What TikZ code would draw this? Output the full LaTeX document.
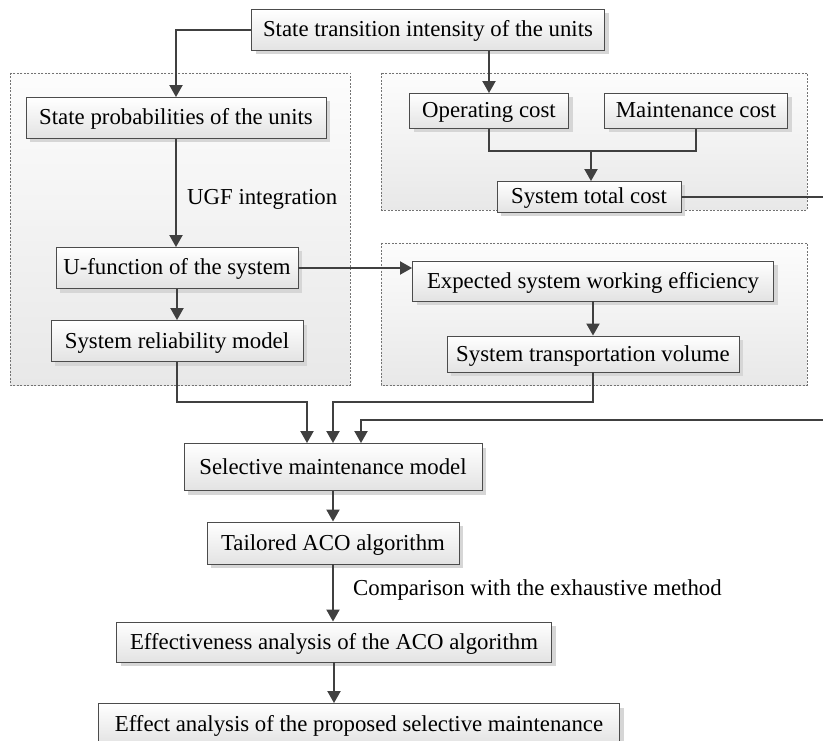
\documentclass[tikz,border=0pt]{standalone}
\usepackage{fontspec}
\setmainfont{Liberation Serif}
\usetikzlibrary{arrows.meta,shadows}
\begin{document}
\begin{tikzpicture}[x=1pt,y=-1pt,
  txt/.style={font=\fontsize{22.8}{26}\selectfont},
  box/.style={txt, draw=black!70, line width=0.9pt, top color=white, bottom color=black!11,
    inner sep=0pt, text height=14pt, text depth=0pt,
    drop shadow={shadow xshift=4pt, shadow yshift=-4pt, fill=black!16, opacity=1}},
  grp/.style={draw=black!55, line width=0.7pt, dash pattern=on 2pt off 1.5pt, top color=black!1, bottom color=black!9},
  conn/.style={draw=black!75, line width=2pt},
  arr/.style={conn, -{Triangle[length=12pt,width=13pt]}},
  lbl/.style={txt, inner sep=0pt, anchor=west}]
\useasboundingbox (0,0) rectangle (823,741);
\clip (0,0) rectangle (823,741);
\fill[white] (0,0) rectangle (823,741);
% groups
\path[grp] (10,73) rectangle (350,385);
\path[grp] (381,73) rectangle (807,210);
\path[grp] (381,243) rectangle (807,385);
% boxes
\node[box, minimum width=353pt, minimum height=41pt] (top) at (428,30) {State transition intensity of the units};
\node[box, minimum width=300pt, minimum height=41pt] (prob) at (176,118) {State probabilities of the units};
\node[box, minimum width=242pt, minimum height=41pt] (ufunc) at (177,268) {U-function of the system};
\node[box, minimum width=252pt, minimum height=41pt] (rel) at (177,341) {System reliability model};
\node[box, minimum width=159pt, minimum height=35pt] (oper) at (489,111) {Operating cost};
\node[box, minimum width=183pt, minimum height=35pt] (maint) at (696,111) {Maintenance cost};
\node[box, minimum width=184pt, minimum height=31pt] (total) at (589,197) {System total cost};
\node[box, minimum width=361pt, minimum height=40pt] (expect) at (593,281) {Expected system working efficiency};
\node[box, minimum width=292pt, minimum height=36pt] (volume) at (593,354) {System transportation volume};
\node[box, minimum width=298pt, minimum height=47pt] (select) at (333,467) {Selective maintenance model};
\node[box, minimum width=252pt, minimum height=42pt] (aco) at (333,543) {Tailored ACO algorithm};
\node[box, minimum width=435pt, minimum height=40pt] (eff) at (334,642) {Effectiveness analysis of the ACO algorithm};
\node[box, minimum width=521pt, minimum height=41pt] (final) at (359,724) {Effect analysis of the proposed selective maintenance};
% labels
\node[lbl] (ugf) at (187,199) {UGF integration};
\node[lbl] (cmp) at (353,590) {Comparison with the exhaustive method};
% helper coordinates
\coordinate (cbar) at (591,151);
\coordinate (m1) at (0,402);
\coordinate (offA) at (840,197);
\coordinate (offB) at (840,420);
\coordinate (sa) at ([xshift=-26pt]select.north);
\coordinate (sb) at (select.north);
\coordinate (sc) at ([xshift=28pt]select.north);
% connectors
\draw[arr] (top.west) -| (prob.north);
\draw[arr] (prob.south) -- (prob.south |- ufunc.north);
\draw[arr] (ufunc.south) -- (rel.north);
\draw[arr] (ufunc.east) -- (ufunc.east -| expect.west);
\draw[arr] (top.south -| oper.north) -- (oper.north);
\draw[conn] (oper.south) |- (cbar) -| (maint.south);
\draw[arr] (cbar) -- (cbar |- total.north);
\draw[conn] (total.east) -- (offA);
\draw[arr] (expect.south) -- (expect.south |- volume.north);
\draw[arr] (rel.south) |- (sa |- m1) -- (sa);
\draw[arr] (volume.south) |- (sb |- m1) -- (sb);
\draw[arr] (offB) -| (sc);
\draw[arr] (select.south) -- (select.south |- aco.north);
\draw[arr] (aco.south) -- (aco.south |- eff.north);
\draw[arr] (eff.south) -- (eff.south |- final.north);
\end{tikzpicture}
\end{document}
